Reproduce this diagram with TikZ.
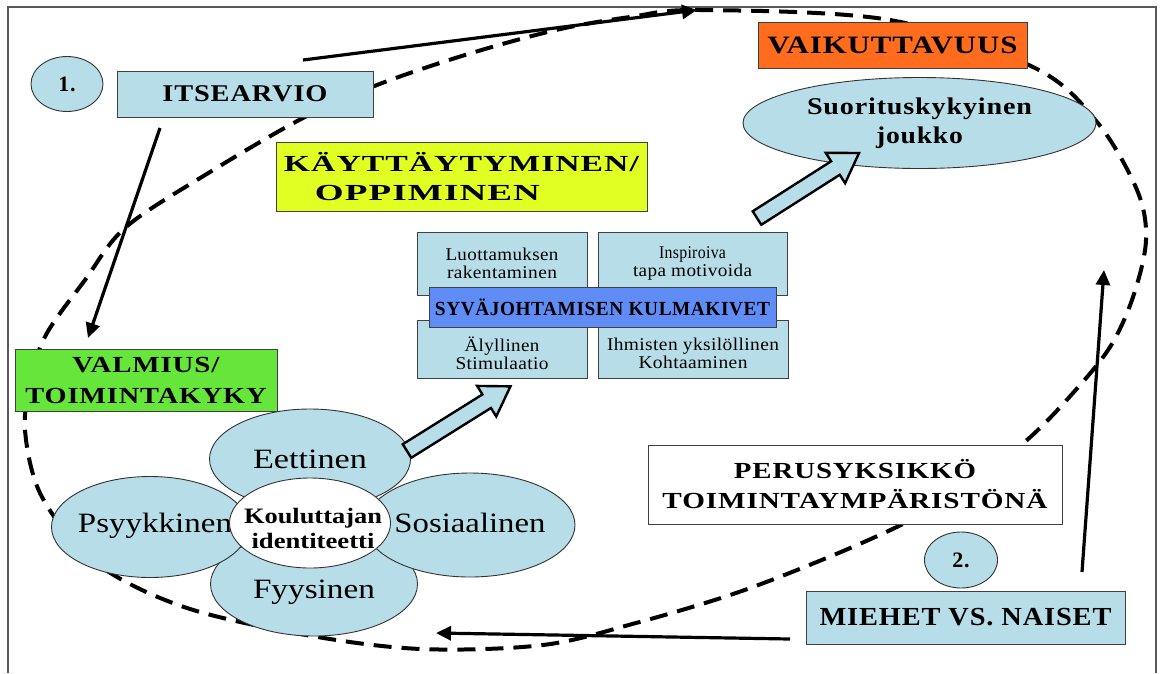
\documentclass[tikz,border=0pt]{standalone}
\usepackage{fontspec}
\usepackage{graphicx}
\setmainfont{Liberation Serif}
\usetikzlibrary{shapes.geometric,arrows.meta}
\definecolor{lblue}{RGB}{183,221,232}
\definecolor{kyellow}{RGB}{226,255,36}
\definecolor{korange}{RGB}{255,108,30}
\definecolor{kgreen}{RGB}{102,230,58}
\definecolor{kblue}{RGB}{96,140,245}
\newcommand\fw[2]{\resizebox{#1pt}{\height}{#2}}
\newcommand\capsf[2]{\fontsize{#1}{#2}\selectfont\bfseries\addfontfeatures{LetterSpace=3}}
\newcommand\smallf{\fontsize{18}{18}\selectfont\addfontfeatures{LetterSpace=2}}
\newcommand\petalf{\fontsize{28}{30}\selectfont}
\tikzset{
  box/.style={draw=black!75, line width=0.8pt, inner sep=0pt, align=center},
  oval/.style={ellipse, draw=black!80, line width=0.9pt, fill=lblue, inner sep=0pt, align=center},
  loopline/.style={line width=4pt, dash pattern=on 18pt off 10pt},
  arr/.style={line width=3.2pt, -{Triangle[length=15pt,width=14pt]}},
  blk/.style={draw=black, line width=2.4pt, fill=lblue, line join=miter},
  framec/.style={draw=black!65, line width=1.2pt}
}
\begin{document}
\begin{tikzpicture}[x=1pt,y=-1pt]
\useasboundingbox (0,0) rectangle (1162,673);
\fill[white] (0,0) rectangle (1162,673);
\draw[framec] (8,673) -- (8,7) -- (1156,7) -- (1156,673);

% dashed loop
\draw[loopline] plot[smooth cycle, tension=0.55] coordinates {(700,10) (890,20) (1035,68) (1097,122) (1137,190) (1146,240) (1133,297) (1110,347) (1073,393) (1027,440) (960,492) (905,523) (829,557) (736,593) (636,623) (543,645) (421,649) (306,635) (184,607) (96,563) (42,497) (25,430) (32,375) (47,333) (85,280) (126,227) (210,172) (303,118) (377,85) (465,55) (556,30) (630,17)};

% top-left
\node[oval, minimum width=72pt, minimum height=55pt, font={\capsf{22}{24}}] (c1) at (67,84) {1.};
\node[box, fill=lblue, minimum width=256pt, minimum height=46pt, font={\capsf{24}{26}}] (itse) at (245,94) {\fw{165}{ITSEARVIO}};

\node[box, fill=kyellow, minimum width=371pt, minimum height=69pt, font={\capsf{23}{29}}] (kayt) at (461.5,176.5)
  {\fw{355}{KÄYTTÄYTYMINEN/}\\\hspace*{-68pt}\fw{225}{OPPIMINEN}};

\node[box, fill=korange, minimum width=269pt, minimum height=46pt, font={\capsf{25}{27}}] (vaik) at (892.5,45) {\fw{250}{VAIKUTTAVUUS}};

\node[oval, minimum width=353pt, minimum height=91pt, font={\capsf{24}{29}}] (suor) at (919.5,123)
  {\fw{225}{Suorituskykyinen}\\\fw{87}{joukko}};

% cornerstones
\node[box, fill=lblue, minimum width=170pt, minimum height=63pt] (luot) at (502,263.5) {};
\node[box, fill=lblue, minimum width=189pt, minimum height=63pt] (insp) at (692.5,263.5) {};
\node[box, fill=lblue, minimum width=170pt, minimum height=58pt] (alyl) at (502,349) {};
\node[box, fill=lblue, minimum width=190pt, minimum height=58pt] (ihmi) at (693,349) {};
\node[align=center, inner sep=0pt, font=\smallf] (tluot) at (502,263) {\fw{113}{Luottamuksen}\\\fw{110}{rakentaminen}};
\node[align=center, inner sep=0pt, font=\smallf] (tinsp) at (692.5,263) {\fw{67}{Inspiroiva}\\\fw{119}{tapa motivoida}};
\node[align=center, inner sep=0pt, font=\smallf] (talyl) at (502,353) {\fw{75}{Älyllinen}\\\fw{93}{Stimulaatio}};
\node[align=center, inner sep=0pt, font=\smallf] (tihmi) at (693,353) {\fw{172}{Ihmisten yksilöllinen}\\\fw{109}{Kohtaaminen}};
\node[box, fill=kblue, minimum width=347pt, minimum height=40pt, font={\capsf{20}{22}}] (syva) at (602.5,307) {\fw{335}{SYVÄJOHTAMISEN KULMAKIVET}};

% valmius
\node[box, fill=kgreen, minimum width=262pt, minimum height=62pt, font={\capsf{23}{31}}] (valm) at (146,380)
  {\fw{147}{VALMIUS/}\\\fw{241}{TOIMINTAKYKY}};

% flower
\node[oval, minimum width=201pt, minimum height=100pt, font=\petalf] (eett) at (310,459) {\fw{114}{Eettinen}};
\node[oval, minimum width=207pt, minimum height=104pt] (fyys) at (314,584) {};
\node[oval, minimum width=197pt, minimum height=101pt] (psyy) at (150,527) {};
\node[oval, minimum width=210pt, minimum height=104pt] (sosi) at (470,525) {};
\node[inner sep=0pt, anchor=base, font=\petalf] (tpsyy) at (155,532) {\fw{154}{Psyykkinen}};
\node[inner sep=0pt, anchor=base, font=\petalf] (tsosi) at (470,532) {\fw{151}{Sosiaalinen}};
\node[inner sep=0pt, anchor=base, font=\petalf] (tfyys) at (314,598) {\fw{122}{Fyysinen}};
\node[ellipse, draw=black!80, line width=0.9pt, fill=white, inner sep=0pt, minimum width=161pt, minimum height=90pt] (kou) at (310,523) {};
\node[inner sep=0pt, align=center, font={\fontsize{22}{25}\selectfont\bfseries}] (tkou) at (313,528) {\fw{138}{Kouluttajan}\\\fw{123}{identiteetti}};

% bottom right
\node[box, fill=white, minimum width=414pt, minimum height=79pt, font={\capsf{23}{30}}] (peru) at (855,484.5)
  {\fw{242}{PERUSYKSIKKÖ}\\\fw{385}{TOIMINTAYMPÄRISTÖNÄ}};
\node[oval, minimum width=73pt, minimum height=56pt, font={\capsf{22}{24}}] (c2) at (961,560) {2.};
\node[box, fill=lblue, minimum width=319pt, minimum height=53pt, font={\capsf{26}{28}}] (mieh) at (965.5,617.5) {\fw{292}{MIEHET VS. NAISET}};

% block arrows
\draw[blk, shift={(407,451)}, rotate=32] (0,-8) -- (94,-8) -- (94,-18) -- (122,0) -- (94,18) -- (94,8) -- (0,8) -- cycle;
\draw[blk, shift={(757,218)}, rotate=32.5] (0,-8) -- (93,-8) -- (93,-18) -- (121,0) -- (93,18) -- (93,8) -- (0,8) -- cycle;

% solid arrows
\coordinate (a1s) at (303,60); \coordinate (a1e) at (697,10);
\coordinate (a2s) at (160,128); \coordinate (a2e) at (88,338);
\coordinate (a3s) at (1082,572); \coordinate (a3e) at (1104,270);
\coordinate (a4s) at (790,639); \coordinate (a4e) at (436,633);
\draw[arr] (a1s) -- (a1e);
\draw[arr] (a2s) -- (a2e);
\draw[arr] (a3s) -- (a3e);
\draw[arr] (a4s) -- (a4e);
\end{tikzpicture}
\end{document}
